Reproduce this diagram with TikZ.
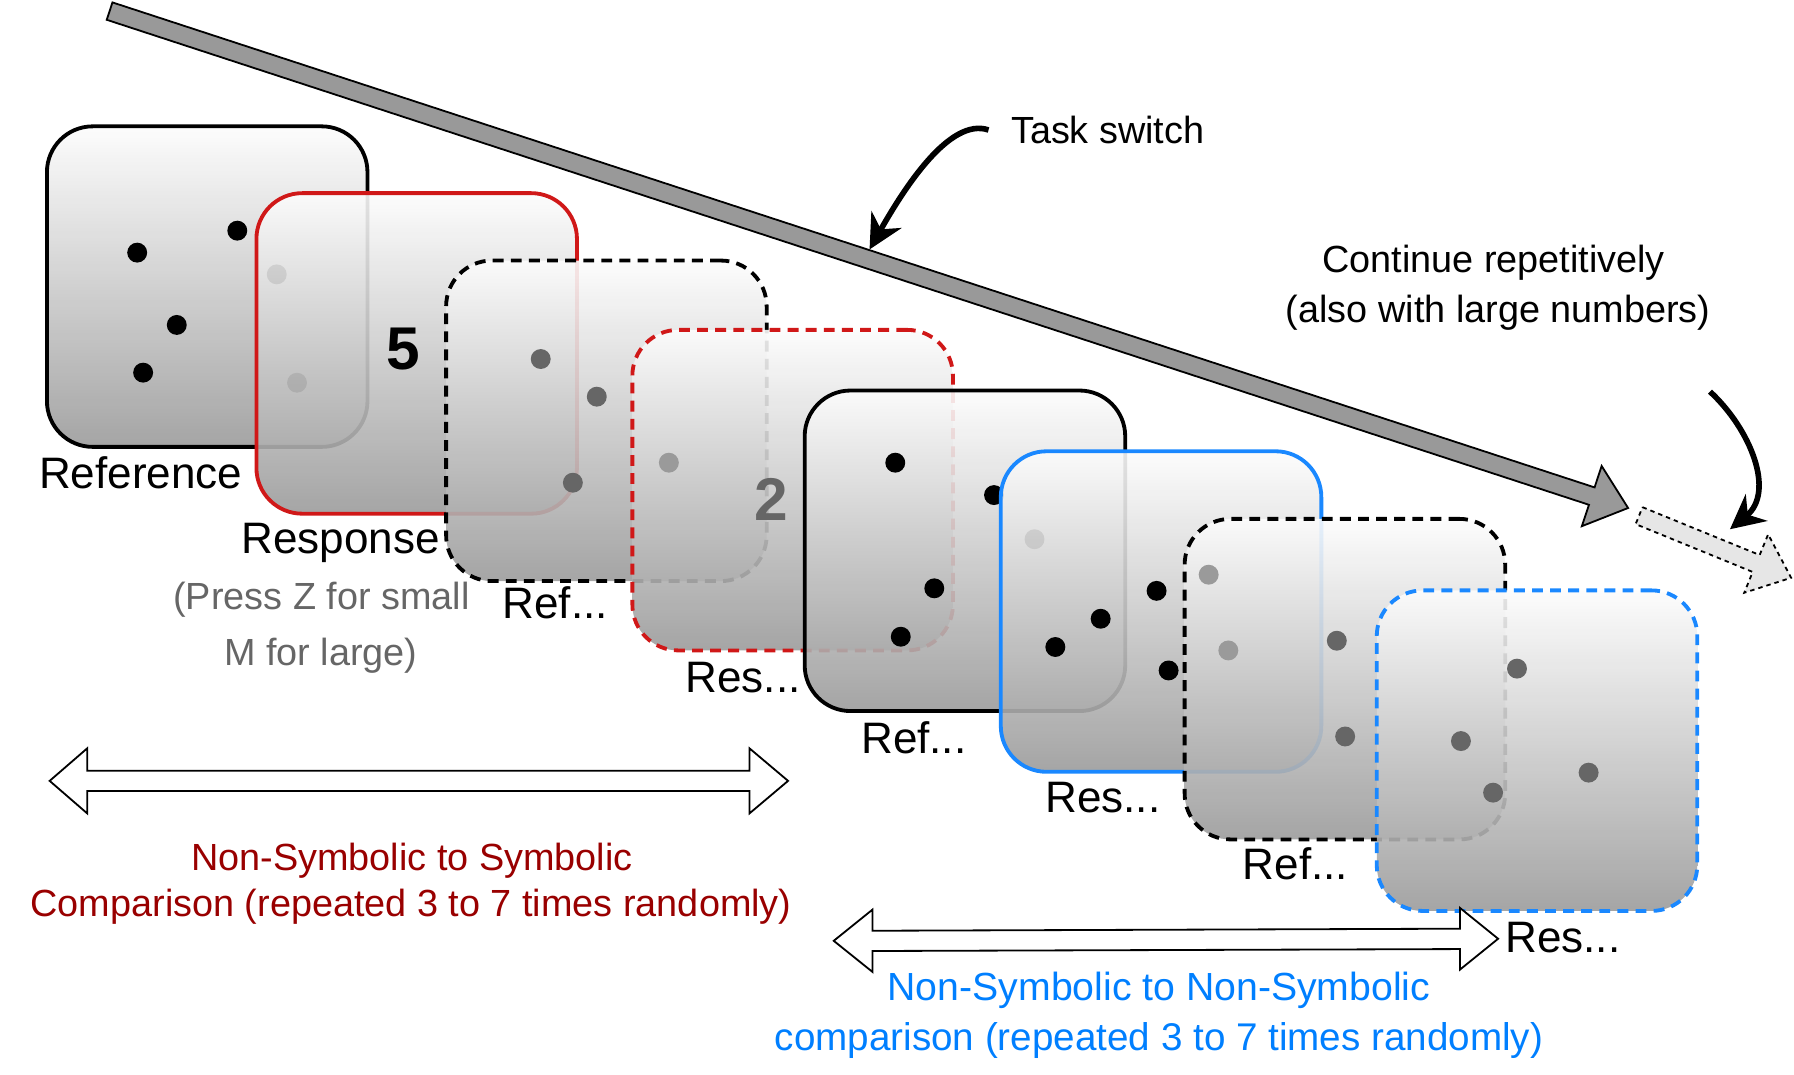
\documentclass[tikz,border=0pt]{standalone}
\usepackage{fontspec}
\setmainfont{Liberation Sans}
\usetikzlibrary{arrows.meta}
\definecolor{panel_top}{RGB}{252, 252, 252}
\definecolor{panel_bot}{RGB}{155, 155, 155}
\definecolor{task_red}{RGB}{208, 24, 24}
\definecolor{task_blue}{RGB}{26, 136, 255}
\definecolor{text_red}{RGB}{153, 0, 0}
\definecolor{text_blue}{RGB}{0, 127, 255}
\definecolor{dot_gray}{RGB}{102, 102, 102}
\definecolor{dot_light}{RGB}{154, 154, 154}
\definecolor{arrow_gray}{RGB}{153, 153, 153}
\definecolor{arrow_light}{RGB}{230, 230, 230}
\tikzstyle{kpanel}=[rectangle,rounded corners=0.4cm,draw=black,line width=0.95pt,
  top color=panel_top,bottom color=panel_bot,fill opacity=0.9,
  minimum width=2.8cm,minimum height=2.8cm,inner sep=0pt]
\tikzstyle{kdpanel}=[kpanel,dash pattern=on 2.7pt off 1.8pt]
\tikzstyle{rpanel}=[kpanel,draw=task_red]
\tikzstyle{rdpanel}=[kdpanel,draw=task_red]
\tikzstyle{bpanel}=[kpanel,draw=task_blue]
\tikzstyle{bdpanel}=[kdpanel,draw=task_blue]
\tikzstyle{kdot}=[circle,fill=black,inner sep=0pt,minimum size=0.174cm]
\tikzstyle{gdot}=[kdot,fill=dot_gray]
\tikzstyle{ldot}=[kdot,fill=dot_light]
\tikzstyle{digit}=[inner sep=0pt,font=\fontsize{15}{18}\selectfont\bfseries]
\tikzstyle{lbl}=[anchor=base west,inner sep=0pt,font=\fontsize{10.95}{13}\selectfont]
\tikzstyle{note}=[anchor=base,inner sep=0pt,font=\fontsize{9.4}{11.3}\selectfont]
\tikzstyle{bigarrow}=[draw=black,line width=0.45pt,fill=arrow_gray]
\tikzstyle{nextarrow}=[draw=black,line width=0.45pt,fill=arrow_light,dash pattern=on 1.1pt off 1pt]
\tikzstyle{blockarrow}=[draw=black,line width=0.45pt,fill=white]
\tikzstyle{curvearr}=[draw=black,line width=1.4pt,-{Stealth[length=8.5pt,width=8.5pt]}]
\tikzstyle{none}=[]

\begin{document}
\begin{tikzpicture}[x=0.01cm, y=-0.01cm]
            \useasboundingbox (0, 0) rectangle (1568, 939);
            \draw [style=bigarrow] (98.3, 2.1) -- (1393.7, 426) -- (1399.9, 407.3) -- (1423, 444)
                -- (1382.6, 459.9) -- (1388.8, 441.2) -- (93.3, 17.3) -- cycle;
            \draw [style=nextarrow] (1435.6, 443.3) -- (1538, 485.1) -- (1545.4, 467) -- (1565.5, 505)
                -- (1524.5, 518.1) -- (1531.9, 499.9) -- (1429.6, 458.1) -- cycle;
            \node [style=kpanel] (0) at (181.1, 250.5) {};
            \node [style=kdot] (1) at (119.9, 220.8) {};
            \node [style=kdot] (2) at (207.4, 201.6) {};
            \node [style=kdot] (3) at (154.5, 284) {};
            \node [style=kdot] (4) at (125.1, 325.7) {};
            \node [style=kdot] (5) at (241.9, 239.8) {};
            \node [style=kdot] (6) at (259.6, 334.5) {};
            \node [style=rpanel] (7) at (364.2, 308.9) {};
            \node [style=digit] (8) at (352.5, 305.2) {5};
            \node [style=kdpanel] (9) at (530, 367.8) {};
            \node [style=gdot] (10) at (472.6, 313.8) {};
            \node [style=gdot] (11) at (521.6, 346.7) {};
            \node [style=gdot] (12) at (500.7, 421.9) {};
            \node [style=rdpanel] (13) at (692.8, 428.4) {};
            \node [style=ldot] (14) at (584.6, 404.4) {};
            \node [style=digit, text=dot_gray] (15) at (674, 436.2) {2};
            \node [style=kpanel] (16) at (843.4, 481.4) {};
            \node [style=kdot] (17) at (782.5, 404.4) {};
            \node [style=kdot] (18) at (868.8, 432.7) {};
            \node [style=kdot] (19) at (816.6, 514.2) {};
            \node [style=kdot] (20) at (787.3, 556.5) {};
            \node [style=kdot] (21) at (904.2, 471.3) {};
            \node [style=bpanel] (22) at (1014.8, 534.5) {};
            \node [style=kdot] (23) at (1010.9, 516.4) {};
            \node [style=kdot] (24) at (962, 540.8) {};
            \node [style=kdot] (25) at (922.4, 565.5) {};
            \node [style=kdot] (26) at (1021.4, 586) {};
            \node [style=kdpanel] (27) at (1175.5, 593.6) {};
            \node [style=ldot] (28) at (1056.4, 502.3) {};
            \node [style=ldot] (29) at (1073.6, 568.5) {};
            \node [style=gdot] (30) at (1168.4, 560) {};
            \node [style=gdot] (31) at (1175.7, 643.7) {};
            \node [style=bdpanel] (32) at (1343.4, 656.1) {};
            \node [style=gdot] (33) at (1325.9, 584.4) {};
            \node [style=gdot] (34) at (1276.9, 647.7) {};
            \node [style=gdot] (35) at (1305, 692.8) {};
            \node [style=gdot] (36) at (1388.5, 675.3) {};
            \node [style=lbl] (37) at (33.5, 427) {Reference};
            \node [style=lbl] (38) at (210.5, 483.6) {Response};
            \node [style=note, text=dot_gray] (39) at (281, 532.3) {(Press Z for small};
            \node [style=note, text=dot_gray] (40) at (280.5, 581.3) {M for large)};
            \node [style=lbl] (41) at (438.5, 540.5) {Ref...};
            \node [style=lbl] (42) at (598.5, 605.2) {Res...};
            \node [style=lbl] (43) at (752, 659) {Ref...};
            \node [style=lbl] (44) at (913, 710.5) {Res...};
            \node [style=lbl] (45) at (1085.5, 768.7) {Ref...};
            \node [style=lbl] (46) at (1315, 832.7) {Res...};
            \draw [style=blockarrow] (43.4, 682.5) -- (76.3, 654) -- (76.3, 673.6) -- (655, 673.6)
                -- (655, 654) -- (688.8, 682.5) -- (655, 711) -- (655, 691.4) -- (76.3, 691.4)
                -- (76.3, 711) -- cycle;
            \draw [style=blockarrow] (728.7, 822.3) -- (762.6, 795) -- (762.6, 813.5) -- (1276, 811.7)
                -- (1276, 793.5) -- (1309.4, 820.5) -- (1276, 847.5) -- (1276, 829.5) -- (762.6, 831.2)
                -- (762.6, 849.5) -- cycle;
            \node [style=note, text=text_red] (47) at (360, 761) {Non-Symbolic to Symbolic};
            \node [style=note, text=text_red] (48) at (359.3, 801.2) {Comparison (repeated 3 to 7 times randomly)};
            \node [style=note, text=text_blue, font=\fontsize{9.75}{11.7}\selectfont] (49) at (1013, 874.7) {Non-Symbolic to Non-Symbolic};
            \node [style=note, text=text_blue, font=\fontsize{9.6}{11.5}\selectfont] (50) at (1013, 917.8) {comparison (repeated 3 to 7 times randomly)};
            \node [style=note, anchor=base west] (51) at (883, 125.3) {Task switch};
            \node [style=note] (52) at (1305.5, 238.5) {Continue repetitively};
            \node [style=note] (53) at (1309.5, 282) {(also with large numbers)};
            \node [style=none] (54) at (864, 113.6) {};
            \node [style=none] (55) at (760, 218) {};
            \node [style=none] (56) at (1494.6, 342.3) {};
            \node [style=none] (57) at (1512, 462.6) {};
            \draw [style=curvearr] (54.center) .. controls (830, 102) and (790, 165) .. (55.center);
            \draw [style=curvearr] (56.center) .. controls (1530, 375) and (1552, 430) .. (57.center);
    \end{tikzpicture}
\end{document}
